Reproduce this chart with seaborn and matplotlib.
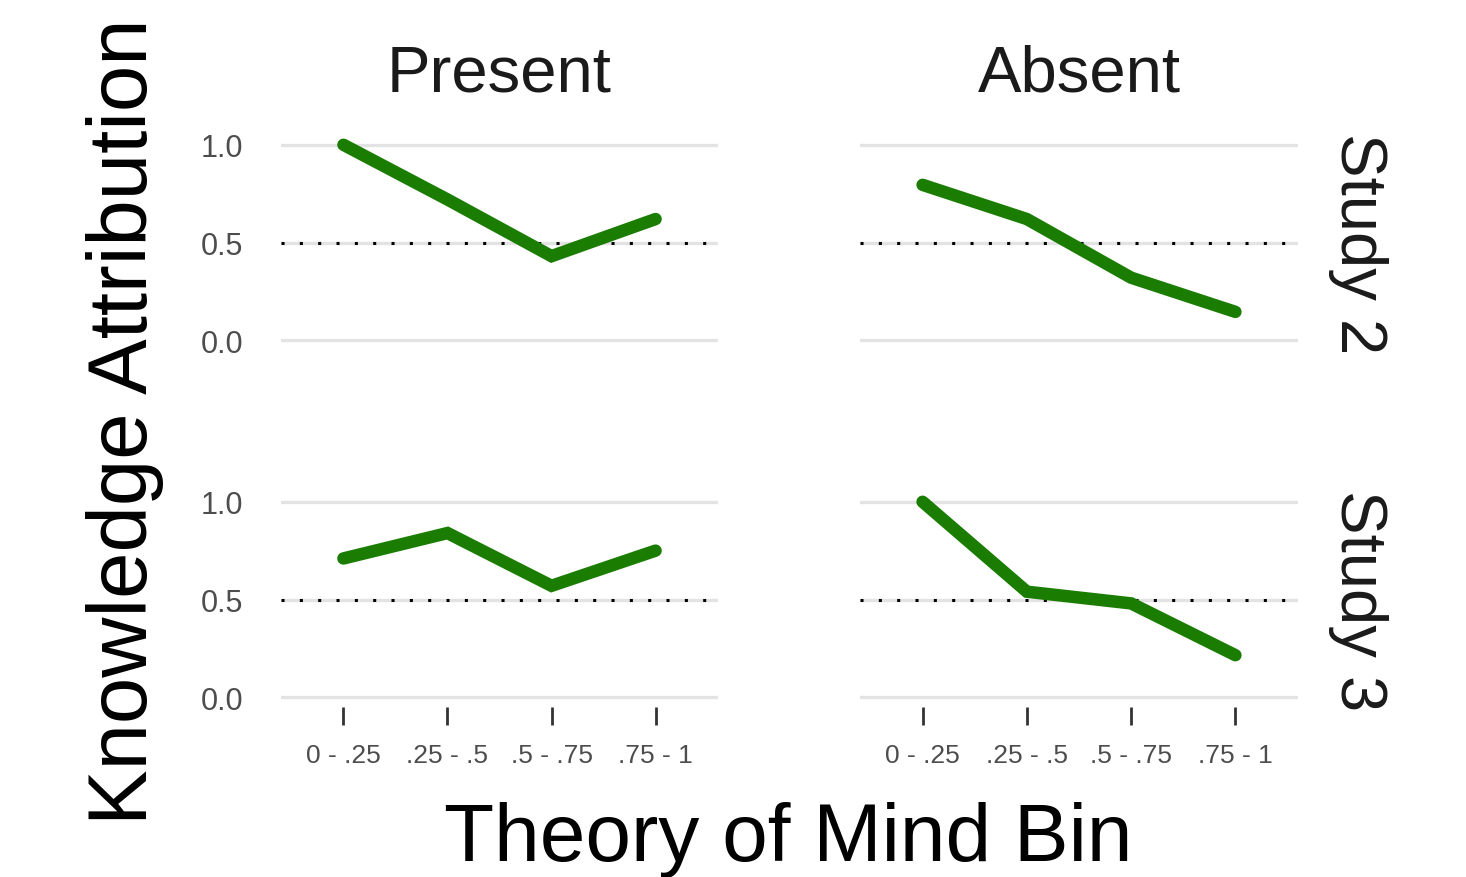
import matplotlib
matplotlib.use("Agg")
import matplotlib.pyplot as plt
import seaborn as sns
import pandas as pd

bins = ["0 - .25", ".25 - .5", ".5 - .75", ".75 - 1"]
conditions = ["Present", "Absent"]
studies = ["Study 2", "Study 3"]
study2_present = [1.00, 0.72, 0.43, 0.62]
study2_absent = [0.795, 0.62, 0.32, 0.145]
study3_present = [0.71, 0.84, 0.57, 0.75]
study3_absent = [1.00, 0.54, 0.48, 0.215]
yticks = [0.0, 0.5, 1.0]
yticklabels = ["0.0", "0.5", "1.0"]

values = {
    ("Study 2", "Present"): study2_present,
    ("Study 2", "Absent"): study2_absent,
    ("Study 3", "Present"): study3_present,
    ("Study 3", "Absent"): study3_absent,
}
rows = []
for (st, cond), vals in values.items():
    for b, v in zip(bins, vals):
        rows.append({"study": st, "condition": cond, "bin": b, "value": v})
df = pd.DataFrame(rows)

sns.set_theme(style="white")
plt.rcParams["font.family"] = ["Liberation Sans", "DejaVu Sans"]

W, H = 1466, 878
fig = plt.figure(figsize=(W / 100, H / 100), dpi=100)

def rect(x0, y0, x1, y1):
    return [x0 / W, 1 - y1 / H, (x1 - x0) / W, (y1 - y0) / H]

xpos = {"Present": (281, 718), "Absent": (860, 1298)}
ypos = {"Study 2": (136, 351), "Study 3": (493, 708)}
green = "#1a7d02"

for st in studies:
    for cond in conditions:
        x0, x1 = xpos[cond]
        y0, y1 = ypos[st]
        ax = fig.add_axes(rect(x0, y0, x1, y1))
        sub = df[(df.study == st) & (df.condition == cond)].copy()
        sub["x"] = [bins.index(b) for b in sub["bin"]]
        for yv in yticks:
            ax.axhline(yv, color="#e3e3e3", lw=2.4, zorder=0)
        ax.axhline(0.5, color="black", lw=2.2, ls=(0, (1, 5.0)), zorder=1)
        sns.lineplot(data=sub, x="x", y="value", ax=ax, color=green, lw=9,
                     solid_capstyle="round", solid_joinstyle="miter", zorder=3,
                     legend=False)
        ax.set_xlim(-0.6, 3.6)
        ax.set_ylim(-0.05, 1.05)
        ax.set_xlabel("")
        ax.set_ylabel("")
        for s in ax.spines.values():
            s.set_visible(False)
        ax.set_yticks(yticks)
        if cond == "Present":
            ax.set_yticklabels(yticklabels, fontsize=22, color="#4d4d4d")
            ax.tick_params(axis="y", length=0, pad=27)
        else:
            ax.set_yticklabels([])
            ax.tick_params(axis="y", length=0)
        ax.set_xticks(range(len(bins)))
        if st == "Study 3":
            ax.set_xticklabels(bins, fontsize=19, color="#4d4d4d")
            ax.tick_params(axis="x", length=13, width=2, color="#333333",
                           pad=13, direction="out", bottom=True)
        else:
            ax.set_xticklabels([])
            ax.tick_params(axis="x", length=0)
        ax.patch.set_alpha(0)
        if st == "Study 2":
            ax.text(0.5, 1.0 + 62 / 215, cond, transform=ax.transAxes,
                    ha="center", va="center", fontsize=47, color="#1a1a1a")
        if cond == "Absent":
            ax.text(1.0 + 60 / 438, 0.5, st, transform=ax.transAxes,
                    ha="center", va="center", rotation=-90, fontsize=47,
                    color="#1a1a1a")

fig.text(125 / W, 1 - 422 / H, "Knowledge Attribution", rotation=90,
         ha="center", va="center", fontsize=60, color="black")
fig.text(788 / W, 1 - 840 / H, "Theory of Mind Bin",
         ha="center", va="center", fontsize=59, color="black")

fig.savefig("out.png", dpi=100, facecolor="white")
